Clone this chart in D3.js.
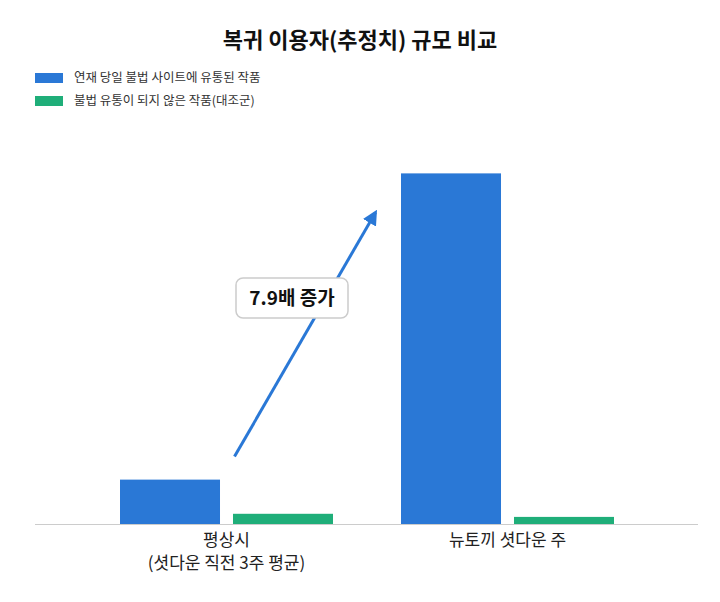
<!DOCTYPE html>
<html><head><meta charset="utf-8">
<script src="https://cdn.jsdelivr.net/npm/d3@7"></script>
<style>body{margin:0;background:#fff;font-family:"Noto Sans CJK KR","Noto Sans",sans-serif;}</style>
</head><body><div id="chart"></div>
<script>
const categories = ["평상시|(셧다운 직전 3주 평균)", "뉴토끼 셧다운 주"];
const seriesNames = ["연재 당일 불법 사이트에 유통된 작품", "불법 유통이 되지 않은 작품(대조군)"];
const seriesColors = ["#2a78d6", "#1fae79"];
const illegalValues = [1.0, 7.9];
const controlValues = [0.23, 0.16];

const width = 720, height = 602;
const svg = d3.select("#chart").append("svg").attr("width", width).attr("height", height);

svg.append("text").attr("x", 360).attr("y", 48).attr("text-anchor", "middle")
  .style("font-size", "22px").style("font-weight", "bold").style("fill", "#111")
  .text("복귀 이용자(추정치) 규모 비교");

// legend
seriesNames.forEach((s, i) => {
  svg.append("rect").attr("x", 35).attr("y", 73 + i * 23).attr("width", 28).attr("height", 10).attr("fill", seriesColors[i]);
  svg.append("text").attr("x", 74).attr("y", 82 + i * 23).style("font-size", "12.5px").style("fill", "#333").text(s);
});

const baseY = 524;
const y = d3.scaleLinear().domain([0, 8.9]).range([baseY, baseY - 395]);
const x0 = d3.scaleBand().domain(categories).range([86, 648]);
const x1 = d3.scaleBand().domain([0, 1]).range([-106.5, 106.5]).paddingInner(0.115);

const g = svg.append("g");
categories.forEach((c, i) => {
  const cx = x0(c) + x0.bandwidth() / 2;
  [illegalValues[i], controlValues[i]].forEach((v, j) => {
    g.append("rect").attr("x", cx + x1(j)).attr("y", y(v)).attr("width", x1.bandwidth())
      .attr("height", y(0) - y(v)).attr("fill", seriesColors[j]);
  });
  const lines = c.split("|");
  lines.forEach((l, k) => {
    svg.append("text").attr("x", cx).attr("y", baseY + 22 + k * 23).attr("text-anchor", "middle")
      .style("font-size", "17px").style("fill", "#222").text(l);
  });
});

svg.append("line").attr("x1", 35).attr("x2", 698).attr("y1", baseY + 0.5).attr("y2", baseY + 0.5)
  .attr("stroke", "#ccc").attr("stroke-width", 1);

// arrow
svg.append("defs").append("marker").attr("id", "ah").attr("viewBox", "0 0 10 10")
  .attr("refX", 8).attr("refY", 5).attr("markerWidth", 5).attr("markerHeight", 5).attr("orient", "auto")
  .append("path").attr("d", "M0,0L10,5L0,10z").attr("fill", "#2a78d6");
const c0 = x0(categories[0]) + x0.bandwidth() / 2;
svg.append("line").attr("x1", c0 + 8).attr("y1", y(illegalValues[0]) - 23)
  .attr("x2", c0 + 149).attr("y2", y(illegalValues[1]) + 39)
  .attr("stroke", "#2a78d6").attr("stroke-width", 3).attr("marker-end", "url(#ah)");

svg.append("rect").attr("x", 236).attr("y", 278).attr("width", 112).attr("height", 40).attr("rx", 7)
  .attr("fill", "#fff").attr("stroke", "#ccc").attr("stroke-width", 1.5);
svg.append("text").attr("x", 292).attr("y", 305).attr("text-anchor", "middle")
  .style("font-size", "19px").style("font-weight", "bold").style("fill", "#111")
  .text(`${illegalValues[1]}배 증가`);
</script></body></html>
